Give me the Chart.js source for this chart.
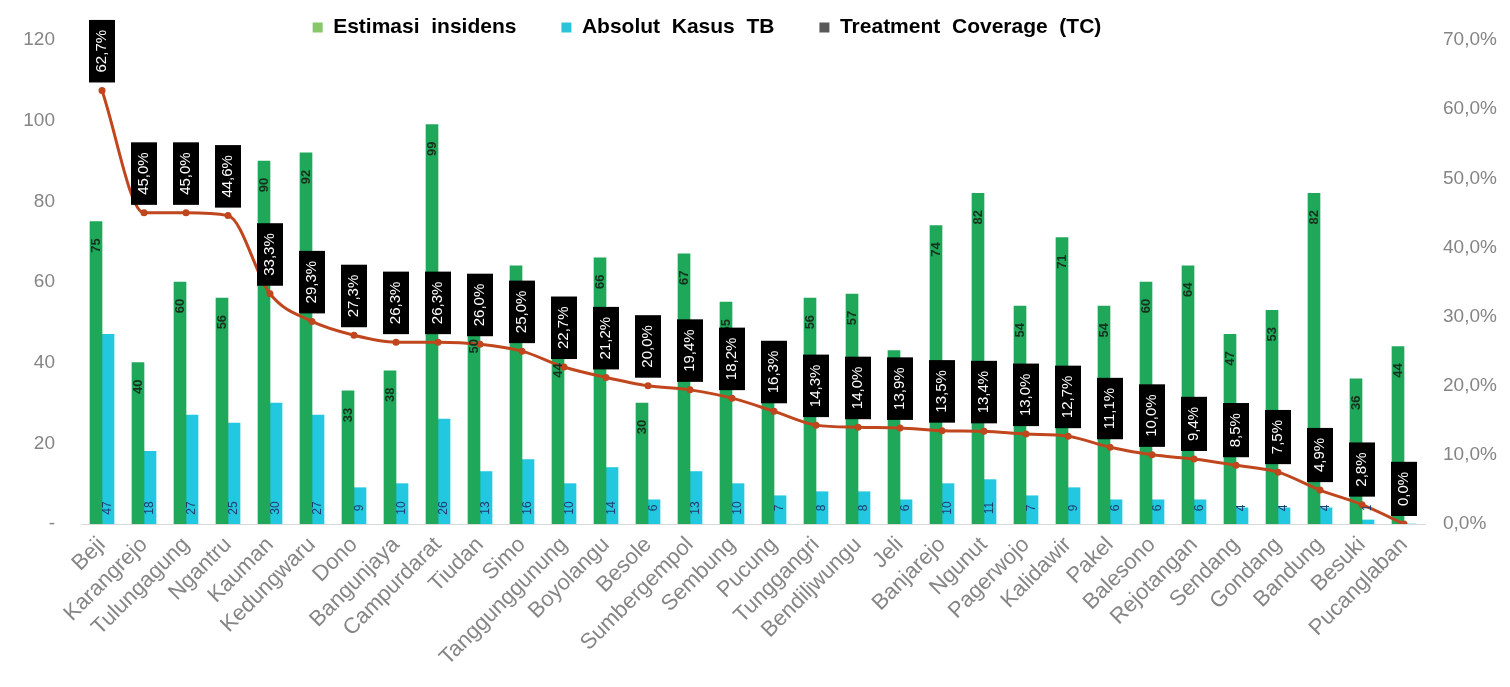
<!DOCTYPE html>
<html>
<head>
<meta charset="utf-8">
<title>Treatment Coverage TB per Kecamatan</title>
<script src="https://cdn.jsdelivr.net/npm/chart.js@4.4.1/dist/chart.umd.min.js"></script>
<style>
  html, body { margin: 0; padding: 0; background: #ffffff; }
  #wrap { width: 1510px; height: 687px; position: relative; }
</style>
</head>
<body>
<div id="wrap"><canvas id="tbChart"></canvas></div>
<script>
// Kecamatan, sorted by treatment coverage
const kecamatan = [
  'Beji', 'Karangrejo', 'Tulungagung', 'Ngantru', 'Kauman', 'Kedungwaru', 'Dono',
  'Bangunjaya', 'Campurdarat', 'Tiudan', 'Simo', 'Tanggunggunung', 'Boyolangu',
  'Besole', 'Sumbergempol', 'Sembung', 'Pucung', 'Tunggangri', 'Bendiljwungu', 'Jeli',
  'Banjarejo', 'Ngunut', 'Pagerwojo', 'Kalidawir', 'Pakel', 'Balesono', 'Rejotangan',
  'Sendang', 'Gondang', 'Bandung', 'Besuki', 'Pucanglaban'
];

// Estimasi insidens (left axis)
const estimasiInsidens = [
  75, 40, 60, 56, 90, 92, 33, 38, 99, 50, 64, 44, 66, 30, 67, 55,
  43, 56, 57, 43, 74, 82, 54, 71, 54, 60, 64, 47, 53, 82, 36, 44
];

// Absolut kasus TB (left axis)
const absolutKasus = [
  47, 18, 27, 25, 30, 27, 9, 10, 26, 13, 16, 10, 14, 6, 13, 10,
  7, 8, 8, 6, 10, 11, 7, 9, 6, 6, 6, 4, 4, 4, 1, 0
];

// Treatment coverage in percent (right axis)
const treatmentCoverage = [
  62.7, 45.0, 45.0, 44.6, 33.3, 29.3, 27.3, 26.3, 26.3, 26.0, 25.0, 22.7, 21.2,
  20.0, 19.4, 18.2, 16.3, 14.3, 14.0, 13.9, 13.5, 13.4, 13.0, 12.7, 11.1, 10.0,
  9.4, 8.5, 7.5, 4.9, 2.8, 0.0
];

// Axis ranges
const leftAxisMax = 120;
const leftAxisStep = 20;
const rightAxisMax = 70;
const rightAxisStep = 10;

// Legend entries
const legendNames = ['Estimasi  insidens', 'Absolut  Kasus  TB', 'Treatment  Coverage  (TC)'];

const COLORS = {
  estimasi: '#1fa85a',
  absolut: '#22c7e0',
  tc: '#c0461e',
  legendEstimasi: '#86c86a',
  legendAbsolut: '#2bc4da',
  legendTc: '#595959',
  tick: '#858585'
};

const FONT = '"Liberation Sans", Arial, sans-serif';

function fmtPct(v) {
  return v.toFixed(1).replace('.', ',') + '%';
}

function drawVertical(ctx, text, x, y, font, color) {
  ctx.save();
  ctx.translate(x, y);
  ctx.rotate(-Math.PI / 2);
  ctx.font = font;
  ctx.fillStyle = color;
  ctx.textAlign = 'center';
  ctx.textBaseline = 'middle';
  ctx.fillText(text, 0, 0);
  ctx.restore();
}

// Value tags on the bars and the black TC boxes above the line points
const valueTags = {
  id: 'valueTags',
  afterDatasetsDraw(chart) {
    const ctx = chart.ctx;
    const metaE = chart.getDatasetMeta(0);
    const metaA = chart.getDatasetMeta(1);
    const metaT = chart.getDatasetMeta(2);

    metaE.data.forEach((bar, i) => {
      drawVertical(ctx, String(estimasiInsidens[i]), bar.x, bar.y + 24,
        'bold 13px ' + FONT, '#16301d');
    });

    metaA.data.forEach((bar, i) => {
      if (!absolutKasus[i]) return;
      drawVertical(ctx, String(absolutKasus[i]), bar.x, bar.base - 16,
        '12px ' + FONT, '#1f3d6b');
    });

    metaT.data.forEach((pt, i) => {
      const txt = fmtPct(treatmentCoverage[i]);
      ctx.save();
      ctx.font = '15px ' + FONT;
      const w = ctx.measureText(txt).width;
      const h = w + 20;
      const bw = 26;
      const bottom = pt.y - 8;
      ctx.fillStyle = '#000000';
      ctx.fillRect(pt.x - bw / 2, bottom - h, bw, h);
      ctx.restore();
      drawVertical(ctx, txt, pt.x, bottom - h / 2, '15px ' + FONT, '#ffffff');
    });
  }
};

// Keeps the legend strip at a fixed height and nudges it left
const legendPlacement = {
  id: 'legendPlacement',
  beforeLayout(chart) {
    const lg = chart.legend;
    if (lg && !lg._fixedFit) {
      const fit = lg.fit.bind(lg);
      lg.fit = function () { fit(); this.height = 40; };
      lg._fixedFit = true;
    }
  },
  afterLayout(chart) {
    const lg = chart.legend;
    const pad = lg.options.labels.padding;
    lg.left -= 48;
    lg.right -= 48;
    lg.top = 17 - pad;
  }
};

const ctx = document.getElementById('tbChart').getContext('2d');
new Chart(ctx, {
  data: {
    labels: kecamatan,
    datasets: [
      {
        type: 'bar',
        label: legendNames[0],
        data: estimasiInsidens,
        backgroundColor: COLORS.estimasi,
        barThickness: 12,
        yAxisID: 'y',
        order: 2
      },
      {
        type: 'bar',
        label: legendNames[1],
        data: absolutKasus,
        backgroundColor: COLORS.absolut,
        barThickness: 12,
        yAxisID: 'y',
        order: 2
      },
      {
        type: 'line',
        label: legendNames[2],
        data: treatmentCoverage,
        borderColor: COLORS.tc,
        backgroundColor: COLORS.tc,
        borderWidth: 3,
        pointRadius: 3.5,
        pointBackgroundColor: COLORS.tc,
        pointBorderWidth: 0,
        cubicInterpolationMode: 'monotone',
        yAxisID: 'y2',
        order: 0
      }
    ]
  },
  options: {
    responsive: true,
    maintainAspectRatio: false,
    animation: false,
    devicePixelRatio: 1,
    layout: { padding: 0 },
    plugins: {
      tooltip: { enabled: false },
      legend: {
        position: 'top',
        align: 'center',
        labels: {
          padding: 45,
          boxWidth: 10,
          boxHeight: 10,
          color: '#262626',
          font: { family: FONT, size: 21, weight: 'bold' },
          generateLabels: () => [
            COLORS.legendEstimasi, COLORS.legendAbsolut, COLORS.legendTc
          ].map((c, i) => ({
            text: legendNames[i],
            fillStyle: c,
            strokeStyle: c,
            lineWidth: 0,
            hidden: false,
            datasetIndex: i
          }))
        }
      }
    },
    scales: {
      x: {
        offset: true,
        grid: { display: false, drawTicks: false },
        border: { display: true, color: '#d9d9d9', width: 1 },
        ticks: {
          autoSkip: false,
          minRotation: 45,
          maxRotation: 45,
          padding: 8,
          color: COLORS.tick,
          font: { family: FONT, size: 22 }
        },
        afterFit(scale) { scale.height = 163; }
      },
      y: {
        position: 'left',
        min: 0,
        max: leftAxisMax,
        grid: { display: false, drawTicks: false },
        border: { display: false },
        ticks: {
          stepSize: leftAxisStep,
          padding: 26,
          color: COLORS.tick,
          font: { family: FONT, size: 19 },
          callback: (v) => (v === 0 ? '-' : String(v))
        },
        afterFit(scale) { scale.width = 81; }
      },
      y2: {
        position: 'right',
        min: 0,
        max: rightAxisMax,
        grid: { display: false, drawTicks: false },
        border: { display: false },
        ticks: {
          stepSize: rightAxisStep,
          padding: 18,
          color: COLORS.tick,
          font: { family: FONT, size: 19 },
          callback: (v) => fmtPct(v)
        },
        afterFit(scale) { scale.width = 85; }
      }
    }
  },
  plugins: [legendPlacement, valueTags]
});
</script>
</body>
</html>
